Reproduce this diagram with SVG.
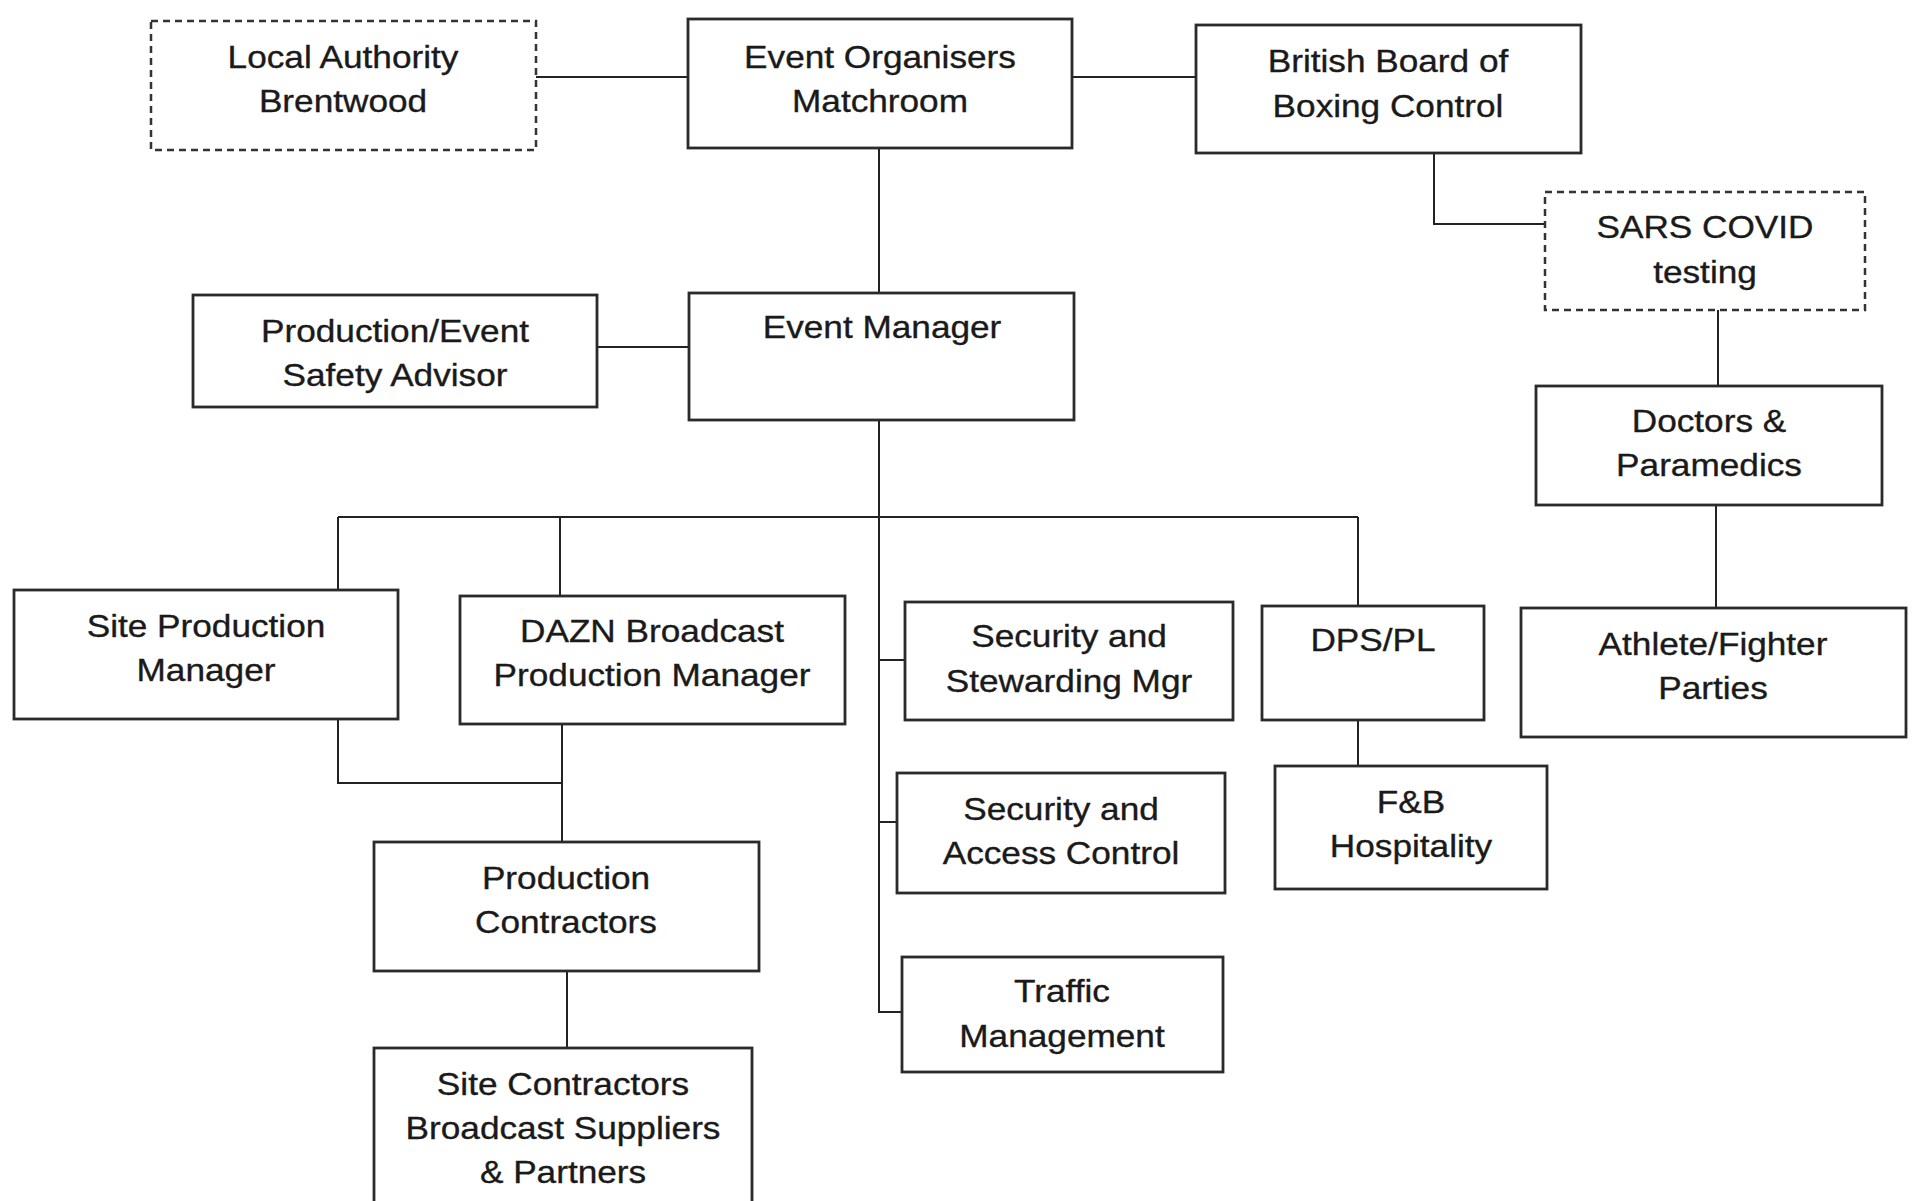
<svg xmlns="http://www.w3.org/2000/svg" width="1913" height="1201" viewBox="0 0 1913 1201">
<style>
.box{fill:#fff;stroke:#2a2a2a;stroke-width:2.8}
.dash{fill:#fff;stroke:#333;stroke-width:2.5;stroke-dasharray:7 5}
.t{font-family:"Liberation Sans",Arial,sans-serif;font-size:32px;fill:#1a1a1a;stroke:#1a1a1a;stroke-width:0.35;text-anchor:middle}
.ln{fill:none;stroke:#222;stroke-width:2}
</style>
<rect width="1913" height="1201" fill="#fff"/>
<g id="connectors" class="ln">
<path d="M536 77H688"/>
<path d="M1072 77H1196"/>
<path d="M879 148V293"/>
<path d="M597 347H689"/>
<path d="M1434 153V224H1545"/>
<path d="M1718 310V386"/>
<path d="M1716 505V608"/>
<path d="M879 420V1013"/>
<path d="M338 517H1358"/>
<path d="M338 517V590"/>
<path d="M560 517V596"/>
<path d="M1358 517V606"/>
<path d="M879 660H905"/>
<path d="M879 822H897"/>
<path d="M879 1012H902"/>
<path d="M338 719V783H562"/>
<path d="M562 724V842"/>
<path d="M567 971V1048"/>
<path d="M1358 720V766"/>
</g>
<g id="local-authority">
<rect class="dash" x="151" y="21" width="385" height="129"/>
<text class="t" transform="translate(343,68) scale(1.1,1)"><tspan x="0" y="0">Local Authority</tspan><tspan x="0" y="44">Brentwood</tspan></text>
</g>
<g id="event-organisers">
<rect class="box" x="688" y="19" width="384" height="129"/>
<text class="t" transform="translate(880,68) scale(1.1,1)"><tspan x="0" y="0">Event Organisers</tspan><tspan x="0" y="44">Matchroom</tspan></text>
</g>
<g id="bbbc">
<rect class="box" x="1196" y="25" width="385" height="128"/>
<text class="t" transform="translate(1388,72) scale(1.1,1)"><tspan x="0" y="0">British Board of</tspan><tspan x="0" y="45">Boxing Control</tspan></text>
</g>
<g id="sars-covid">
<rect class="dash" x="1545" y="192" width="320" height="118"/>
<text class="t" transform="translate(1705,238) scale(1.1,1)"><tspan x="0" y="0">SARS COVID</tspan><tspan x="0" y="45">testing</tspan></text>
</g>
<g id="safety-advisor">
<rect class="box" x="193" y="295" width="404" height="112"/>
<text class="t" transform="translate(395,342) scale(1.1,1)"><tspan x="0" y="0">Production/Event</tspan><tspan x="0" y="44">Safety Advisor</tspan></text>
</g>
<g id="event-manager">
<rect class="box" x="689" y="293" width="385" height="127"/>
<text class="t" transform="translate(882,338) scale(1.1,1)">Event Manager</text>
</g>
<g id="doctors">
<rect class="box" x="1536" y="386" width="346" height="119"/>
<text class="t" transform="translate(1709,432) scale(1.1,1)"><tspan x="0" y="0">Doctors &amp;</tspan><tspan x="0" y="44">Paramedics</tspan></text>
</g>
<g id="site-production-manager">
<rect class="box" x="14" y="590" width="384" height="129"/>
<text class="t" transform="translate(206,637) scale(1.1,1)"><tspan x="0" y="0">Site Production</tspan><tspan x="0" y="44">Manager</tspan></text>
</g>
<g id="dazn">
<rect class="box" x="460" y="596" width="385" height="128"/>
<text class="t" transform="translate(652,642) scale(1.1,1)"><tspan x="0" y="0">DAZN Broadcast</tspan><tspan x="0" y="44">Production Manager</tspan></text>
</g>
<g id="security-stewarding">
<rect class="box" x="905" y="602" width="328" height="118"/>
<text class="t" transform="translate(1069,647) scale(1.1,1)"><tspan x="0" y="0">Security and</tspan><tspan x="0" y="45">Stewarding Mgr</tspan></text>
</g>
<g id="dps-pl">
<rect class="box" x="1262" y="606" width="222" height="114"/>
<text class="t" transform="translate(1373,651) scale(1.1,1)">DPS/PL</text>
</g>
<g id="athlete">
<rect class="box" x="1521" y="608" width="385" height="129"/>
<text class="t" transform="translate(1713,655) scale(1.1,1)"><tspan x="0" y="0">Athlete/Fighter</tspan><tspan x="0" y="44">Parties</tspan></text>
</g>
<g id="security-access">
<rect class="box" x="897" y="773" width="328" height="120"/>
<text class="t" transform="translate(1061,820) scale(1.1,1)"><tspan x="0" y="0">Security and</tspan><tspan x="0" y="44">Access Control</tspan></text>
</g>
<g id="fb-hospitality">
<rect class="box" x="1275" y="766" width="272" height="123"/>
<text class="t" transform="translate(1411,813) scale(1.1,1)"><tspan x="0" y="0">F&amp;B</tspan><tspan x="0" y="44">Hospitality</tspan></text>
</g>
<g id="production-contractors">
<rect class="box" x="374" y="842" width="385" height="129"/>
<text class="t" transform="translate(566,889) scale(1.1,1)"><tspan x="0" y="0">Production</tspan><tspan x="0" y="44">Contractors</tspan></text>
</g>
<g id="traffic-management">
<rect class="box" x="902" y="957" width="321" height="115"/>
<text class="t" transform="translate(1062,1002) scale(1.1,1)"><tspan x="0" y="0">Traffic</tspan><tspan x="0" y="45">Management</tspan></text>
</g>
<g id="site-contractors">
<rect class="box" x="374" y="1048" width="378" height="170"/>
<text class="t" transform="translate(563,1095) scale(1.1,1)"><tspan x="0" y="0">Site Contractors</tspan><tspan x="0" y="44">Broadcast Suppliers</tspan><tspan x="0" y="88">&amp; Partners</tspan></text>
</g>
</svg>
